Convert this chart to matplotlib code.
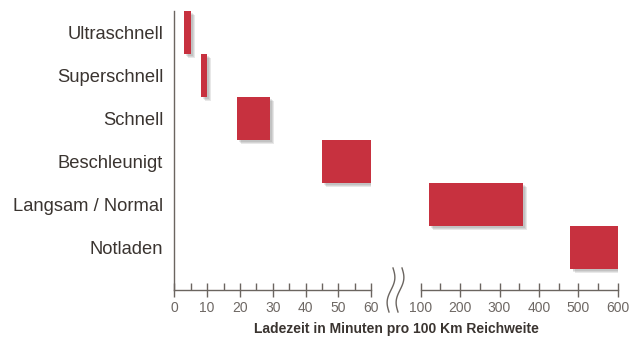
import matplotlib
matplotlib.use("Agg")
import matplotlib.pyplot as plt
import matplotlib.patheffects as pe
from matplotlib.lines import Line2D
import numpy as np

plt.rcParams['font.family'] = ['Liberation Sans', 'DejaVu Sans']

# Ladestufen und Ladezeit-Bereiche (Minuten pro 100 km)
kategorien = ['Ultraschnell', 'Superschnell', 'Schnell', 'Beschleunigt',
              'Langsam / Normal', 'Notladen']
start = [3, 8, 19, 45, 120, 480]
ende = [5, 10, 29, 60, 360, 600]

links_ticks = [0, 10, 20, 30, 40, 50, 60]
rechts_ticks = [100, 200, 300, 400, 500, 600]

farbe = '#c7313f'
achse = '#6b6560'
text = '#3a3430'

fig = plt.figure(figsize=(6.38, 3.4), dpi=100)
unten, hoehe = 0.1485, 0.9676 - 0.1485
ax1 = fig.add_axes([0.2732, unten, 0.582 - 0.2732, hoehe])
ax2 = fig.add_axes([0.6594, unten, 0.9682 - 0.6594, hoehe])

# weicher Schatten aus mehreren leichten Lagen
schatten = [pe.SimplePatchShadow(offset=(o, -o), shadow_rgbFace='#444444', alpha=0.12)
            for o in (3.0, 2.2, 1.5)] + [pe.Normal()]

y = np.arange(len(kategorien))
for ax, lo, hi in [(ax1, 0, 60), (ax2, 100, 600)]:
    for i, (s, e) in enumerate(zip(start, ende)):
        if lo <= s <= hi:
            ax.barh(y[i], e - s, left=s, height=1.0, color=farbe,
                    path_effects=schatten, zorder=3)
    ax.set_xlim(lo, hi)
    ax.set_ylim(len(kategorien) - 0.5 + 0.47, -0.5)
    for sp in ['top', 'right']:
        ax.spines[sp].set_visible(False)
    ax.spines['bottom'].set_color(achse)
    ax.spines['bottom'].set_linewidth(1.0)
    ax.tick_params(axis='x', which='major', direction='inout', length=10,
                   width=1.0, color=achse, labelsize=10, labelcolor='#6e6864', pad=3)
    ax.tick_params(axis='x', which='minor', direction='in', length=5,
                   width=1.0, color=achse)
    ax.patch.set_alpha(0)

ax1.set_xticks(links_ticks)
ax1.set_xticks(np.arange(5, 60, 10), minor=True)
ax1.set_yticks(y)
ax1.set_yticklabels(kategorien, fontsize=13.2, color=text)
ax1.tick_params(axis='y', length=0, pad=8)
ax1.spines['left'].set_color(achse)
ax1.spines['left'].set_linewidth(1.0)

ax2.set_xticks(rechts_ticks)
ax2.set_xticks(np.arange(150, 600, 100), minor=True)
ax2.set_yticks([])
ax2.spines['left'].set_visible(False)

# Achsenbruch-Zeichen
for x0 in [391, 400]:
    t = np.linspace(0, 1, 50)
    xs = x0 + 2.8 * np.sin(t * 2 * np.pi) + (t - 0.5) * -4
    ys = 268 + t * 44
    fig.add_artist(Line2D(xs / 638, 1 - ys / 340, color=achse, lw=1.0))

fig.text(396 / 638, 1 - 329 / 340, 'Ladezeit in Minuten pro 100 Km Reichweite',
         ha='center', va='center', fontsize=10, fontweight='bold', color=text)

fig.savefig('out.png', dpi=100)
